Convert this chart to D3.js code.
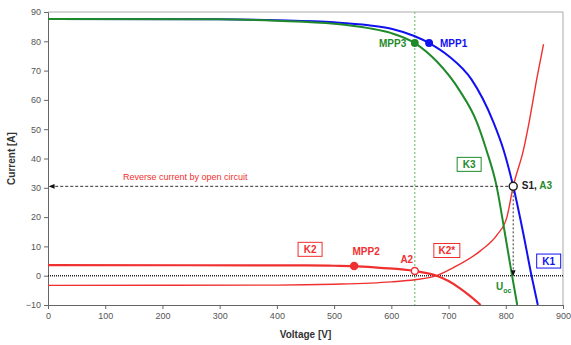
<!DOCTYPE html>
<html>
<head>
<meta charset="utf-8">
<script src="https://cdn.jsdelivr.net/npm/d3@7"></script>
<style>
  body { margin: 0; background: #fff; }
  svg { font-family: "Liberation Sans", Arial, sans-serif; }
</style>
</head>
<body>
<div id="chart"></div>
<script>
// Voltage / current points.
var k1Volt = [0, 300, 400, 500, 560, 600, 640, 666, 700, 740, 778, 796, 813, 830, 845, 856];
var k1Curr = [87.6, 87.5, 87.2, 86.5, 85.5, 84.3, 81.8, 79.4, 75, 67, 52.6, 43, 30.5, 15, 0, -10];

var k3Volt = [0, 300, 400, 500, 560, 600, 641, 680, 720, 749, 766, 784, 798, 811, 820];
var k3Curr = [87.6, 87.5, 87, 86, 84.5, 82.8, 79.4, 73, 63, 52.6, 43, 30.5, 15, 0, -10];

var k2Volt = [0, 450, 500, 535, 580, 641, 679, 700, 720, 740, 756];
var k2Curr = [3.6, 3.5, 3.4, 3.3, 2.7, 1.6, 0, -1.8, -4.3, -7.3, -10];

var k2sVolt = [0, 400, 500, 600, 641, 679, 708, 755, 785, 802, 813, 831, 841, 855, 866];
var k2sCurr = [-3.3, -3.2, -2.9, -2.1, -1.4, 0, 2.7, 8.4, 14, 20, 30.5, 43, 52.6, 68, 79];

var xTicks = [0, 100, 200, 300, 400, 500, 600, 700, 800, 900];
var yTicks = [-10, 0, 10, 20, 30, 40, 50, 60, 70, 80, 90];

// marked points
var mpp1 = [666, 79.4], mpp3 = [641, 79.4], mpp2 = [535, 3.3], a2 = [641, 1.6], s1 = [813, 30.5];
var vocLine = 641; // green dotted vertical

var width = 571, height = 345;
var margin = {left: 48, right: 8, top: 12, bottom: 40};

var blue = "#1010f0", green = "#1f8a2a", red = "#f03030";

var svg = d3.select("#chart").append("svg")
    .attr("width", width)
    .attr("height", height);

var x = d3.scaleLinear().domain([0, 900]).range([margin.left, width - margin.right]);
var y = d3.scaleLinear().domain([-10, 90]).range([height - margin.bottom, margin.top]);

svg.append("defs").append("clipPath").attr("id", "plot")
    .append("rect")
    .attr("x", x(0)).attr("y", y(90))
    .attr("width", x(900) - x(0)).attr("height", y(-10) - y(90));

svg.append("defs").append("marker")
    .attr("id", "arr")
    .attr("viewBox", "0 0 10 10")
    .attr("refX", 9).attr("refY", 5)
    .attr("markerWidth", 6).attr("markerHeight", 6)
    .attr("orient", "auto")
    .append("path").attr("d", "M0,1 L10,5 L0,9 z").attr("fill", "#111");

// plot frame (top / right)
svg.append("path")
    .attr("d", "M" + x(0) + "," + y(90) + "H" + x(900) + "V" + y(-10))
    .attr("fill", "none").attr("stroke", "#aaa").attr("stroke-width", 1);

// axes
var xAxis = svg.append("g")
    .attr("transform", "translate(0," + y(-10) + ")")
    .call(d3.axisBottom(x).tickValues(xTicks).tickSize(4).tickPadding(4));
var yAxis = svg.append("g")
    .attr("transform", "translate(" + x(0) + ",0)")
    .call(d3.axisLeft(y).tickValues(yTicks).tickSize(4).tickPadding(3));
[xAxis, yAxis].forEach(function(g) {
  g.select(".domain").attr("stroke", "#666");
  g.selectAll(".tick line").attr("stroke", "#666");
  g.selectAll(".tick text").attr("fill", "#555").style("font-size", "9px");
});

svg.append("text")
    .attr("x", (x(0) + x(900)) / 2).attr("y", 338)
    .attr("text-anchor", "middle")
    .style("font-size", "10px").style("font-weight", "bold").attr("fill", "#333")
    .text("Voltage [V]");
svg.append("text")
    .attr("transform", "translate(15," + y(40) + ") rotate(-90)")
    .attr("text-anchor", "middle")
    .style("font-size", "10px").style("font-weight", "bold").attr("fill", "#333")
    .text("Current [A]");

var plot = svg.append("g").attr("clip-path", "url(#plot)");

// reference lines
plot.append("line")
    .attr("x1", x(vocLine)).attr("x2", x(vocLine))
    .attr("y1", y(90)).attr("y2", y(-10))
    .attr("stroke", "#7cc47c").attr("stroke-width", 1.2).attr("stroke-dasharray", "2,2");
plot.append("line")
    .attr("x1", x(0)).attr("x2", x(900))
    .attr("y1", y(0)).attr("y2", y(0))
    .attr("stroke", "#222").attr("stroke-width", 1.5).attr("stroke-dasharray", "1,1");

var line = d3.line()
    .x(function(d) { return x(d[0]); })
    .y(function(d) { return y(d[1]); })
    .curve(d3.curveMonotoneX);

function drawCurve(volts, currs, color, w) {
  plot.append("path")
      .datum(d3.zip(volts, currs))
      .attr("d", line)
      .attr("fill", "none")
      .attr("stroke", color)
      .attr("stroke-width", w);
}
drawCurve(k2sVolt, k2sCurr, red, 1.4);
drawCurve(k2Volt, k2Curr, red, 2.2);
drawCurve(k1Volt, k1Curr, blue, 2);
drawCurve(k3Volt, k3Curr, green, 2);

// dashed lines with arrows
svg.append("line")
    .attr("x1", x(s1[0]) - 5).attr("x2", x(2))
    .attr("y1", y(s1[1])).attr("y2", y(s1[1]))
    .attr("stroke", "#333").attr("stroke-width", 1).attr("stroke-dasharray", "3,2")
    .attr("marker-end", "url(#arr)");
svg.append("line")
    .attr("x1", x(s1[0])).attr("x2", x(s1[0]))
    .attr("y1", y(s1[1]) + 5).attr("y2", y(0))
    .attr("stroke", "#333").attr("stroke-width", 1).attr("stroke-dasharray", "2,2")
    .attr("marker-end", "url(#arr)");

// points
function dot(p, fill, stroke, r) {
  svg.append("circle")
      .attr("cx", x(p[0])).attr("cy", y(p[1])).attr("r", r)
      .attr("fill", fill).attr("stroke", stroke).attr("stroke-width", 1.5);
}
dot(mpp1, blue, blue, 3.2);
dot(mpp3, green, green, 3.2);
dot(mpp2, red, red, 3.5);
dot(a2, "#fff", red, 3.5);
dot(s1, "#fff", "#222", 4);

// labels
function label(txt, v, i, color, anchor, size) {
  return svg.append("text")
      .attr("x", x(v)).attr("y", y(i))
      .attr("dy", "0.35em")
      .attr("text-anchor", anchor || "start")
      .attr("fill", color)
      .style("font-size", (size || 10) + "px")
      .style("font-weight", "bold")
      .text(txt);
}
label("MPP3", 626, 79.4, green, "end");
label("MPP1", 685, 79.4, blue, "start");
label("MPP2", 556, 8.2, red, "middle");
label("A2", 627, 5.6, red, "middle");

var s1t = svg.append("text")
    .attr("x", x(828)).attr("y", y(30.8)).attr("dy", "0.35em")
    .style("font-size", "10px").style("font-weight", "bold");
s1t.append("tspan").attr("fill", "#222").text("S1, ");
s1t.append("tspan").attr("fill", green).text("A3");

var uoc = svg.append("text")
    .attr("x", x(783)).attr("y", y(-3.6)).attr("dy", "0.35em")
    .attr("fill", green).style("font-size", "10px").style("font-weight", "bold");
uoc.append("tspan").text("U");
uoc.append("tspan").attr("dy", "3").style("font-size", "7px").text("oc");

svg.append("text")
    .attr("x", x(131)).attr("y", y(33.6)).attr("dy", "0.35em")
    .attr("fill", red).style("font-size", "9px")
    .text("Reverse current by open circuit");

// boxed curve names
function boxLabel(txt, v, i, color, w) {
  var cx = x(v), cy = y(i);
  svg.append("rect")
      .attr("x", cx - w / 2).attr("y", cy - 7)
      .attr("width", w).attr("height", 14)
      .attr("fill", "#fff").attr("stroke", color).attr("stroke-width", 1);
  svg.append("text")
      .attr("x", cx).attr("y", cy).attr("dy", "0.35em")
      .attr("text-anchor", "middle").attr("fill", color)
      .style("font-size", "10px").style("font-weight", "bold")
      .text(txt);
}
boxLabel("K3", 736, 38, green, 24);
boxLabel("K1", 875, 5, blue, 24);
boxLabel("K2", 458, 9, red, 24);
boxLabel("K2*", 697, 8.6, red, 26);
</script>
</body>
</html>
